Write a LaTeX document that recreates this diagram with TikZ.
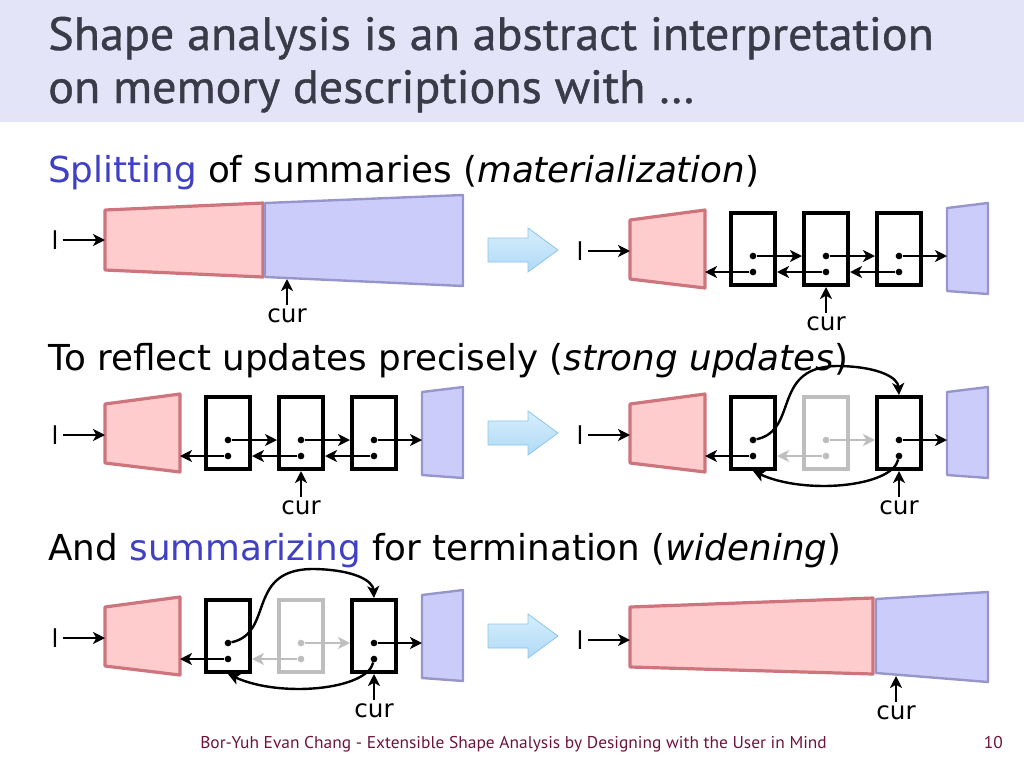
\documentclass[tikz,border=0pt]{standalone}
\usepackage{fontspec}
\setmainfont{DejaVu Sans}
\newfontfamily\headfont[FakeStretch=1.03,FakeBold=0.9]{PT Sans}
\newfontfamily\footfont[FakeStretch=1.02]{PT Sans}
\usetikzlibrary{arrows.meta}

\definecolor{titleback}{RGB}{228,228,248}
\definecolor{titleink}{RGB}{58,58,72}
\definecolor{keyblue}{RGB}{64,64,196}
\definecolor{footink}{RGB}{110,20,60}
\definecolor{sumfill}{RGB}{255,204,206}
\definecolor{sumline}{RGB}{206,116,124}
\definecolor{restfill}{RGB}{204,204,250}
\definecolor{restline}{RGB}{150,150,204}
\definecolor{steptop}{RGB}{214,238,252}
\definecolor{stepbot}{RGB}{176,218,246}
\definecolor{stepline}{RGB}{140,196,236}
\definecolor{ghost}{RGB}{190,190,190}

\tikzset{
  cell/.style={draw, line width=3pt, fill=white, minimum width=33pt, minimum height=54pt, inner sep=0pt},
  ghostcell/.style={cell, draw=ghost},
  dot/.style={circle, fill, inner sep=0pt, minimum size=5pt},
  ghostdot/.style={dot, fill=ghost},
  ptr/.style={line width=1.8pt, -{Stealth[length=9pt,width=9pt,inset=2.5pt]}},
  ghostptr/.style={ptr, draw=ghost},
  sumseg/.style={fill=sumfill, draw=sumline, line width=2.4pt, line join=round},
  restseg/.style={fill=restfill, draw=restline, line width=1.8pt, line join=round},
  var/.style={font=\fontsize{18.5}{18.5}\selectfont, inner sep=3pt},
  lead/.style={anchor=base west, inner sep=0pt, font=\fontsize{26.8}{26.8}\selectfont},
  head/.style={anchor=base west, inner sep=0pt, text=titleink, font=\headfont\fontsize{35}{35}\selectfont},
  bigstep/.pic={
    \draw[top color=steptop, bottom color=stepbot, draw=stepline, line width=0.6pt]
      (-35,-12) -- (5,-12) -- (5,-22) -- (35,0) -- (5,22) -- (5,12) -- (-35,12) -- cycle;
  }
}

\begin{document}
\begin{tikzpicture}[x=0.75pt, y=-0.75pt]
    \useasboundingbox (0,0) rectangle (1024,768);

    % Title band
    \fill[titleback] (0,0) rectangle (1024,122);
    \node[head] (title1) at (48,50) {Shape analysis is an abstract interpretation};
    \node[head] (title2) at (48,103) {on memory descriptions with …};

    % Lead lines
    \node[lead] (lead1) at (48,182) {\textcolor{keyblue}{Splitting} of summaries (\textit{materialization})};
    \node[lead] (lead2) at (48,370) {To reflect updates precisely (\textit{strong updates})};
    \node[lead] (lead3) at (48,560) {And \textcolor{keyblue}{summarizing} for termination (\textit{widening})};

    % Big arrows
    \pic at (523,250) {bigstep};
    \pic at (523,433) {bigstep};
    \pic at (523,636) {bigstep};

    % Row 1, before: summary split at cur
    \draw[sumseg] (105,210) -- (263,203) -- (263,277) -- (105,270) -- cycle;
    \draw[restseg] (265,203) -- (463,195) -- (463,286) -- (265,277) -- cycle;
    \node[var] (l1) at (55,240) {l};
    \coordinate (l1in) at (105,240);
    \draw[ptr] (l1) -- (l1in);
    \node[var] (cur1) at (287,316) {cur};
    \coordinate (cur1at) at (287,279);
    \draw[ptr] (cur1) -- (cur1at);

    % Row 1, after: three materialized cells
    \begin{scope}[shift={(630,211)}]
        \draw[sumseg] (0,9) -- (75,-1) -- (75,77) -- (0,68) -- cycle;
        \draw[restseg] (317,-3) -- (358,-8) -- (358,83) -- (317,80) -- cycle;
        \node[var] (l2) at (-50,40) {l};
        \coordinate (l2in) at (0,40);
        \coordinate (m0out) at (75,61);
        \coordinate (m4in) at (317,45);
        \draw[ptr] (l2) -- (l2in);
        \foreach \i/\x in {1/123,2/196,3/269} {
            \node[cell] (m\i) at (\x,38) {};
            \node[dot] (m\i-u) at (\x,45) {};
            \node[dot] (m\i-d) at (\x,61) {};
        }
        \foreach \i/\j in {1/2,2/3} {
            \draw[ptr] (m\i-u) -- (m\i-u -| m\j.west);
            \draw[ptr] (m\j-d) -- (m\j-d -| m\i.east);
        }
        \draw[ptr] (m3-u) -- (m3-u -| m4in);
        \draw[ptr] (m1-d) -- (m1-d -| m0out);
        \node[var] (cur2) at (196,113) {cur};
        \draw[ptr] (cur2) -- (m2.south);
    \end{scope}

    % Row 2, before: cur at the middle cell
    \begin{scope}[shift={(105,395)}]
        \draw[sumseg] (0,9) -- (75,-1) -- (75,77) -- (0,68) -- cycle;
        \draw[restseg] (317,-3) -- (358,-8) -- (358,83) -- (317,80) -- cycle;
        \node[var] (l3) at (-50,40) {l};
        \coordinate (l3in) at (0,40);
        \coordinate (a0out) at (75,61);
        \coordinate (a4in) at (317,45);
        \draw[ptr] (l3) -- (l3in);
        \foreach \i/\x in {1/123,2/196,3/269} {
            \node[cell] (a\i) at (\x,38) {};
            \node[dot] (a\i-u) at (\x,45) {};
            \node[dot] (a\i-d) at (\x,61) {};
        }
        \foreach \i/\j in {1/2,2/3} {
            \draw[ptr] (a\i-u) -- (a\i-u -| a\j.west);
            \draw[ptr] (a\j-d) -- (a\j-d -| a\i.east);
        }
        \draw[ptr] (a3-u) -- (a3-u -| a4in);
        \draw[ptr] (a1-d) -- (a1-d -| a0out);
        \node[var] (cur3) at (196,113) {cur};
        \draw[ptr] (cur3) -- (a2.south);
    \end{scope}

    % Row 2, after: middle cell unlinked
    \begin{scope}[shift={(630,395)}]
        \draw[sumseg] (0,9) -- (75,-1) -- (75,77) -- (0,68) -- cycle;
        \draw[restseg] (317,-3) -- (358,-8) -- (358,83) -- (317,80) -- cycle;
        \node[var] (l4) at (-50,40) {l};
        \coordinate (l4in) at (0,40);
        \coordinate (c0out) at (75,61);
        \coordinate (c4in) at (317,45);
        \draw[ptr] (l4) -- (l4in);
        \node[ghostcell] (c2) at (196,38) {};
        \node[ghostdot] (c2-u) at (196,45) {};
        \node[ghostdot] (c2-d) at (196,61) {};
        \foreach \i/\x in {1/123,3/269} {
            \node[cell] (c\i) at (\x,38) {};
            \node[dot] (c\i-u) at (\x,45) {};
            \node[dot] (c\i-d) at (\x,61) {};
        }
        \draw[ghostptr] (c2-u) -- (c2-u -| c3.west);
        \draw[ghostptr] (c2-d) -- (c2-d -| c1.east);
        \draw[ptr] (c3-u) -- (c3-u -| c4in);
        \draw[ptr] (c1-d) -- (c1-d -| c0out);
        \draw[ptr] (c1-u) .. controls (170,35) and (140,-30) .. (210,-29)
            .. controls (250,-28) and (268,-17) .. (c3.north);
        \draw[ptr] (c3-d) .. controls (262,92) and (175,100) .. (c1.south);
        \node[var] (cur4) at (269,113) {cur};
        \draw[ptr] (cur4) -- (c3.south);
    \end{scope}

    % Row 3, before: same shape as row 2 after
    \begin{scope}[shift={(105,598)}]
        \draw[sumseg] (0,9) -- (75,-1) -- (75,77) -- (0,68) -- cycle;
        \draw[restseg] (317,-3) -- (358,-8) -- (358,83) -- (317,80) -- cycle;
        \node[var] (l5) at (-50,40) {l};
        \coordinate (l5in) at (0,40);
        \coordinate (d0out) at (75,61);
        \coordinate (d4in) at (317,45);
        \draw[ptr] (l5) -- (l5in);
        \node[ghostcell] (d2) at (196,38) {};
        \node[ghostdot] (d2-u) at (196,45) {};
        \node[ghostdot] (d2-d) at (196,61) {};
        \foreach \i/\x in {1/123,3/269} {
            \node[cell] (d\i) at (\x,38) {};
            \node[dot] (d\i-u) at (\x,45) {};
            \node[dot] (d\i-d) at (\x,61) {};
        }
        \draw[ghostptr] (d2-u) -- (d2-u -| d3.west);
        \draw[ghostptr] (d2-d) -- (d2-d -| d1.east);
        \draw[ptr] (d3-u) -- (d3-u -| d4in);
        \draw[ptr] (d1-d) -- (d1-d -| d0out);
        \draw[ptr] (d1-u) .. controls (170,35) and (140,-30) .. (210,-29)
            .. controls (250,-28) and (268,-17) .. (d3.north);
        \draw[ptr] (d3-d) .. controls (262,92) and (175,100) .. (d1.south);
        \node[var] (cur5) at (269,113) {cur};
        \draw[ptr] (cur5) -- (d3.south);
    \end{scope}

    % Row 3, after: widened summary
    \draw[sumseg] (630,607) -- (873,598) -- (873,674) -- (630,667) -- cycle;
    \draw[restseg] (876,599) -- (988,592) -- (988,682) -- (876,673) -- cycle;
    \node[var] (l6) at (580,640) {l};
    \coordinate (l6in) at (630,640);
    \draw[ptr] (l6) -- (l6in);
    \node[var] (cur6) at (896,713) {cur};
    \coordinate (cur6at) at (896,676);
    \draw[ptr] (cur6) -- (cur6at);

    % Footer
    \node[anchor=base west, inner sep=0pt, text=footink, font=\footfont\fontsize{12.8}{12.8}\selectfont] (foot) at (200,748)
        {Bor-Yuh Evan Chang - Extensible Shape Analysis by Designing with the User in Mind};
    \node[anchor=base east, inner sep=0pt, text=footink, font=\footfont\fontsize{12.8}{12.8}\selectfont] (pageno) at (1003,748) {10};
\end{tikzpicture}
\end{document}
